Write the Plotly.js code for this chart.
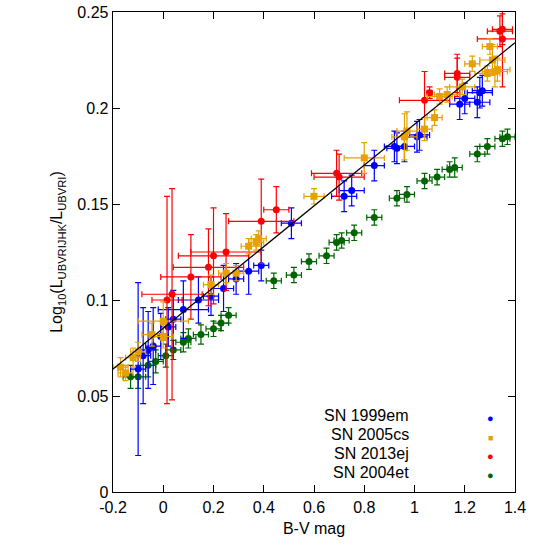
<!DOCTYPE html>
<html>
<head>
<meta charset="utf-8">
<script src="https://cdn.plot.ly/plotly-3.0.1.min.js"></script>
<style>body{margin:0}#plot{width:545px;height:552px}</style>
</head>
<body>
<div id="plot"></div>
<script>
// SN 1999em
let em99_x = [-0.10, -0.08, -0.06, -0.04, -0.01, 0.02, 0.04, 0.08, 0.14, 0.19, 0.24, 0.29, 0.34, 0.39, 0.51, 0.72, 0.75, 0.84, 0.92, 0.93, 0.96, 1.01, 1.02, 1.18, 1.20, 1.25, 1.26, 1.27];
let em99_y = [0.064, 0.071, 0.074, 0.076, 0.081, 0.086, 0.090, 0.095, 0.100, 0.102, 0.106, 0.111, 0.115, 0.118, 0.140, 0.154, 0.157, 0.170, 0.180, 0.179, 0.180, 0.185, 0.186, 0.202, 0.205, 0.203, 0.208, 0.209];
let em99_ey = [0.045, 0.025, 0.020, 0.020, 0.012, 0.010, 0.015, 0.015, 0.012, 0.010, 0.012, 0.008, 0.012, 0.008, 0.008, 0.008, 0.008, 0.008, 0.008, 0.008, 0.008, 0.008, 0.008, 0.008, 0.008, 0.008, 0.008, 0.008];
let em99_ex = [0.03, 0.03, 0.03, 0.03, 0.03, 0.03, 0.03, 0.10, 0.08, 0.03, 0.04, 0.03, 0.04, 0.03, 0.04, 0.05, 0.05, 0.04, 0.04, 0.04, 0.04, 0.04, 0.04, 0.04, 0.04, 0.05, 0.05, 0.04];

// SN 2005cs
let cs05_x = [-0.17, -0.15, -0.12, -0.10, -0.045, 0.00, 0.00, 0.19, 0.25, 0.29, 0.34, 0.37, 0.38, 0.60, 0.80, 0.96, 0.97, 1.04, 1.08, 1.10, 1.13, 1.19, 1.23, 1.29, 1.30, 1.31, 1.32, 1.33];
let cs05_y = [0.065, 0.062, 0.070, 0.073, 0.082, 0.089, 0.081, 0.108, 0.114, 0.114, 0.128, 0.130, 0.132, 0.154, 0.174, 0.185, 0.188, 0.189, 0.195, 0.206, 0.207, 0.211, 0.223, 0.218, 0.232, 0.225, 0.219, 0.220];
let cs05_ey = [0.005, 0.004, 0.005, 0.005, 0.006, 0.010, 0.006, 0.005, 0.005, 0.004, 0.004, 0.004, 0.004, 0.004, 0.008, 0.012, 0.010, 0.006, 0.004, 0.004, 0.004, 0.004, 0.004, 0.004, 0.004, 0.008, 0.008, 0.006];
let cs05_ex = [0.03, 0.03, 0.03, 0.03, 0.04, 0.10, 0.04, 0.03, 0.03, 0.03, 0.03, 0.03, 0.03, 0.04, 0.08, 0.05, 0.04, 0.03, 0.03, 0.05, 0.05, 0.05, 0.03, 0.05, 0.03, 0.05, 0.05, 0.05];

// SN 2013ej
let ej13_x = [0.015, 0.035, 0.11, 0.18, 0.20, 0.25, 0.39, 0.45, 0.69, 0.70, 1.04, 1.06, 1.17, 1.17, 1.34, 1.35, 1.35];
let ej13_y = [0.100, 0.103, 0.112, 0.117, 0.123, 0.125, 0.141, 0.147, 0.166, 0.164, 0.204, 0.208, 0.218, 0.216, 0.240, 0.236, 0.241];
let ej13_ey = [0.054, 0.055, 0.022, 0.020, 0.025, 0.020, 0.022, 0.012, 0.012, 0.012, 0.015, 0.003, 0.010, 0.010, 0.008, 0.025, 0.008];
let ej13_ex = [0.06, 0.12, 0.12, 0.14, 0.14, 0.14, 0.13, 0.05, 0.10, 0.10, 0.10, 0.01, 0.05, 0.05, 0.05, 0.10, 0.04];

// SN 2004et
let et04_x = [-0.13, -0.10, -0.06, -0.03, 0.01, 0.04, 0.08, 0.10, 0.15, 0.20, 0.23, 0.26, 0.44, 0.52, 0.58, 0.65, 0.69, 0.71, 0.76, 0.84, 0.93, 0.97, 1.04, 1.09, 1.14, 1.16, 1.25, 1.29, 1.35, 1.37];
let et04_y = [0.060, 0.060, 0.066, 0.068, 0.071, 0.074, 0.078, 0.080, 0.082, 0.085, 0.088, 0.092, 0.110, 0.113, 0.120, 0.123, 0.130, 0.131, 0.135, 0.143, 0.153, 0.155, 0.162, 0.164, 0.168, 0.169, 0.176, 0.180, 0.184, 0.185];
let et04_ey = [0.006, 0.006, 0.006, 0.006, 0.006, 0.005, 0.005, 0.005, 0.005, 0.004, 0.004, 0.004, 0.004, 0.004, 0.004, 0.004, 0.004, 0.004, 0.004, 0.004, 0.004, 0.004, 0.004, 0.004, 0.004, 0.005, 0.004, 0.004, 0.004, 0.004];
let et04_ex = [0.03, 0.03, 0.03, 0.03, 0.03, 0.03, 0.03, 0.03, 0.03, 0.03, 0.03, 0.03, 0.03, 0.03, 0.03, 0.03, 0.03, 0.03, 0.03, 0.03, 0.03, 0.03, 0.03, 0.03, 0.03, 0.03, 0.03, 0.03, 0.03, 0.03];

// linear fit
let fit_x = [-0.2, 1.4];
let fit_y = [0.064, 0.234];

let xticks = [-0.2, 0, 0.2, 0.4, 0.6, 0.8, 1, 1.2, 1.4];
let xticklabels = ['-0.2', '0', '0.2', '0.4', '0.6', '0.8', '1', '1.2', '1.4'];
let yticks = [0, 0.05, 0.1, 0.15, 0.2, 0.25];
let yticklabels = ['0', '0.05', '0.1', '0.15', '0.2', '0.25'];

let names = ['SN 1999em', 'SN 2005cs', 'SN 2013ej', 'SN 2004et'];
let colors = ['#0000ff', '#e6a000', '#ff0000', '#006400'];
let symbols = ['●', '■', '●', '●'];

function series(x, y, ex, ey, color, sym) {
    return {
        x: x, y: y, mode: 'markers', type: 'scatter', showlegend: false,
        marker: {color: color, size: 7, symbol: sym},
        error_x: {type: 'data', array: ex, color: color, thickness: 1.2, width: 3},
        error_y: {type: 'data', array: ey, color: color, thickness: 1.2, width: 3}
    };
}

let traces = [
    series(et04_x, et04_y, et04_ex, et04_ey, colors[3], 'circle'),
    series(em99_x, em99_y, em99_ex, em99_ey, colors[0], 'circle'),
    series(ej13_x, ej13_y, ej13_ex, ej13_ey, colors[2], 'circle'),
    series(cs05_x, cs05_y, cs05_ex, cs05_ey, colors[1], 'square'),
    {x: fit_x, y: fit_y, mode: 'lines', type: 'scatter', showlegend: false,
     line: {color: 'black', width: 1.3}}
];

// legend drawn as annotations: text right-aligned, marker to the right
let annotations = [];
names.forEach((n, i) => {
    annotations.push({xref: 'paper', yref: 'paper', x: 0.742, y: 0.137 - i * 0.0396, xanchor: 'right',
        text: n, showarrow: false, font: {size: 16, color: 'black'}});
    annotations.push({xref: 'paper', yref: 'paper', x: 0.94, y: 0.137 - i * 0.0396, xanchor: 'center',
        text: symbols[i], showarrow: false, font: {size: i == 1 ? 9 : 11, color: colors[i]}});
});

let axisCommon = {showgrid: false, zeroline: false, showline: true, linecolor: 'black', linewidth: 1.3,
    mirror: 'ticks', ticks: 'inside', ticklen: 7, tickcolor: 'black', tickfont: {size: 16, color: 'black'}};

let layout = {
    width: 545, height: 552,
    margin: {l: 113, r: 30, t: 12, b: 60},
    font: {family: 'Liberation Sans, Arial, sans-serif', color: 'black'},
    plot_bgcolor: 'white', paper_bgcolor: 'white',
    xaxis: Object.assign({}, axisCommon, {range: [-0.2, 1.4], tickvals: xticks, ticktext: xticklabels,
        title: {text: 'B-V mag', font: {size: 16, color: 'black'}, standoff: 8}}),
    yaxis: Object.assign({}, axisCommon, {range: [0, 0.25], tickvals: yticks, ticktext: yticklabels,
        title: {text: 'Log<sub>10</sub>(L<sub>UBVRIJHK</sub>/L<sub>UBVRI</sub>)', font: {size: 16, color: 'black'}, standoff: 10}}),
    annotations: annotations
};

Plotly.newPlot('plot', traces, layout, {staticPlot: true});
</script>
</body>
</html>
